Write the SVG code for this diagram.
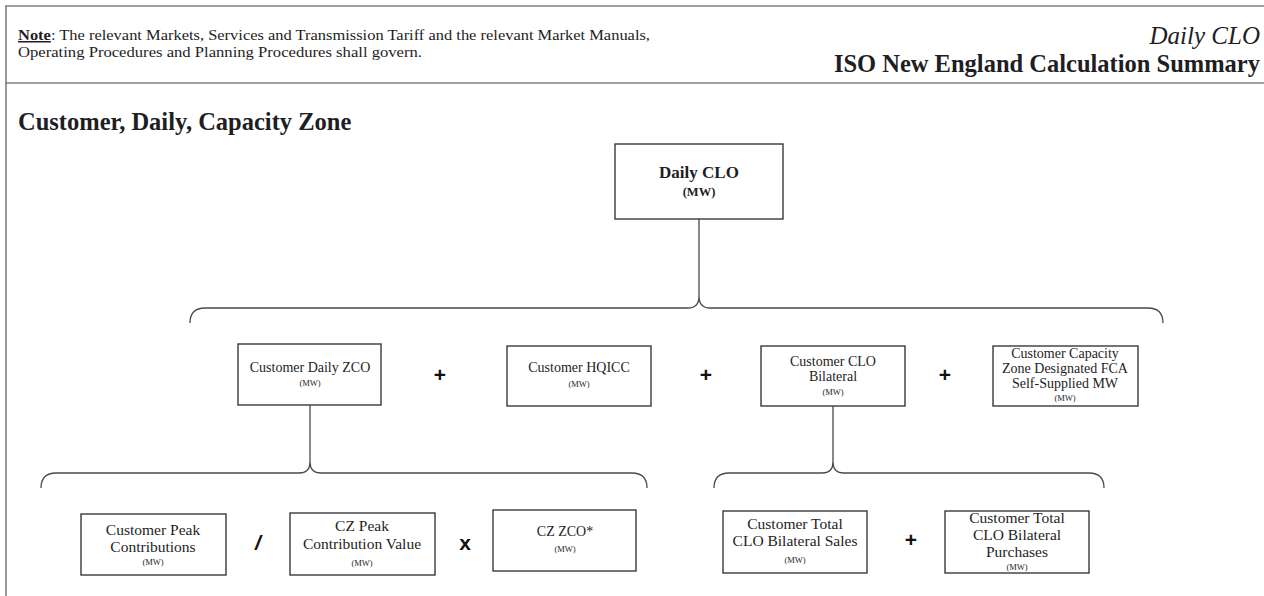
<svg xmlns="http://www.w3.org/2000/svg" width="1264" height="596" viewBox="0 0 1264 596">
<style>
text{font-family:"Liberation Serif","DejaVu Serif",serif;fill:#1e1e24}
.box{fill:#fff;stroke:#3a3a3a;stroke-width:1.4}
.frame{stroke:#808080;stroke-width:1.6;fill:none}
.con{fill:none;stroke:#4a4a4a;stroke-width:1.3}
.t{font-size:14px;text-anchor:middle}
.tb{font-size:15.5px;text-anchor:middle}
.mw{font-size:8.5px;text-anchor:middle}
.op{font-family:"Liberation Sans",Arial,sans-serif;font-weight:bold;font-size:21px;text-anchor:middle;fill:#111}
</style>
<rect width="1264" height="596" fill="#fff"/>
<g id="page">
<line class="frame" x1="5" y1="6" x2="1264" y2="6"/>
<line class="frame" x1="6" y1="6" x2="6" y2="596"/>
<line class="frame" x1="5" y1="83" x2="1264" y2="83"/>
<text x="18" y="40" font-size="15" textLength="632" lengthAdjust="spacingAndGlyphs"><tspan font-weight="bold" text-decoration="underline">Note</tspan>: The relevant Markets, Services and Transmission Tariff and the relevant Market Manuals,</text>
<text x="18" y="57" font-size="15" textLength="404" lengthAdjust="spacingAndGlyphs">Operating Procedures and Planning Procedures shall govern.</text>
<text x="1260" y="44" font-size="25" font-style="italic" text-anchor="end">Daily CLO</text>
<text x="1260" y="72" font-size="24.5" font-weight="bold" text-anchor="end">ISO New England Calculation Summary</text>
<text x="18" y="130" font-size="24.5" font-weight="bold">Customer, Daily, Capacity Zone</text>
</g>
<g id="connectors">
<line class="con" x1="699" y1="219" x2="699" y2="296"/>
<path class="con" d="M190,323 Q190,308 205,308 L688,308 Q699,308 699,296 Q699,308 710,308 L1148,308 Q1163,308 1163,323"/>
<line class="con" x1="310" y1="405" x2="310" y2="462"/>
<path class="con" d="M41,488 Q41,473 56,473 L299,473 Q310,473 310,462 Q310,473 321,473 L632,473 Q647,473 647,488"/>
<line class="con" x1="833" y1="406" x2="833" y2="462"/>
<path class="con" d="M714,488 Q714,473 729,473 L822,473 Q833,473 833,462 Q833,473 844,473 L1089,473 Q1104,473 1104,488"/>
</g>
<g id="daily-clo">
<rect class="box" x="615" y="144" width="168" height="75"/>
<text x="699" y="178" font-size="17" font-weight="bold" text-anchor="middle">Daily CLO</text>
<text x="699" y="196" font-size="12.5" font-weight="bold" text-anchor="middle">(MW)</text>
</g>
<g id="customer-daily-zco">
<rect class="box" x="238" y="344" width="143" height="61"/>
<text class="t" x="310" y="372" font-size="13.5">Customer Daily ZCO</text>
<text class="mw" x="310" y="386">(MW)</text>
</g>
<g id="op1"><text class="op" x="440" y="382">+</text></g>
<g id="customer-hqicc">
<rect class="box" x="507" y="346" width="144" height="60"/>
<text class="t" x="579" y="372">Customer HQICC</text>
<text class="mw" x="579" y="387">(MW)</text>
</g>
<g id="op2"><text class="op" x="706" y="382">+</text></g>
<g id="customer-clo-bilateral">
<rect class="box" x="761" y="346" width="144" height="60"/>
<text class="t" x="833" y="366">Customer CLO</text>
<text class="t" x="833" y="381">Bilateral</text>
<text class="mw" x="833" y="395">(MW)</text>
</g>
<g id="op3"><text class="op" x="945" y="382">+</text></g>
<g id="customer-capacity-zone">
<rect class="box" x="993" y="346" width="145" height="60"/>
<text class="t" x="1065" y="358">Customer Capacity</text>
<text class="t" x="1065" y="373">Zone Designated FCA</text>
<text class="t" x="1065" y="388">Self-Supplied MW</text>
<text class="mw" x="1065" y="401">(MW)</text>
</g>
<g id="customer-peak-contributions">
<rect class="box" x="81" y="514" width="145" height="61"/>
<text class="tb" x="153" y="535">Customer Peak</text>
<text class="tb" x="153" y="552">Contributions</text>
<text class="mw" x="153" y="565" font-size="9">(MW)</text>
</g>
<g id="op4"><text class="op" x="258" y="550" font-style="italic">/</text></g>
<g id="cz-peak-contribution-value">
<rect class="box" x="290" y="513" width="145" height="62"/>
<text class="tb" x="362" y="531">CZ Peak</text>
<text class="tb" x="362" y="549">Contribution Value</text>
<text class="mw" x="362" y="566" font-size="9">(MW)</text>
</g>
<g id="op5"><text class="op" x="465" y="550">x</text></g>
<g id="cz-zco">
<rect class="box" x="493" y="510" width="143" height="61"/>
<text class="t" x="565" y="536" font-size="12.5">CZ ZCO*</text>
<text class="mw" x="565" y="552">(MW)</text>
</g>
<g id="customer-total-sales">
<rect class="box" x="723" y="511" width="144" height="62"/>
<text class="tb" x="795" y="529">Customer Total</text>
<text class="tb" x="795" y="546">CLO Bilateral Sales</text>
<text class="mw" x="795" y="563" font-size="9">(MW)</text>
</g>
<g id="op6"><text class="op" x="911" y="547">+</text></g>
<g id="customer-total-purchases">
<rect class="box" x="945" y="511" width="144" height="62"/>
<text class="tb" x="1017" y="523">Customer Total</text>
<text class="tb" x="1017" y="540">CLO Bilateral</text>
<text class="tb" x="1017" y="557">Purchases</text>
<text class="mw" x="1017" y="570" font-size="9">(MW)</text>
</g>
</svg>
